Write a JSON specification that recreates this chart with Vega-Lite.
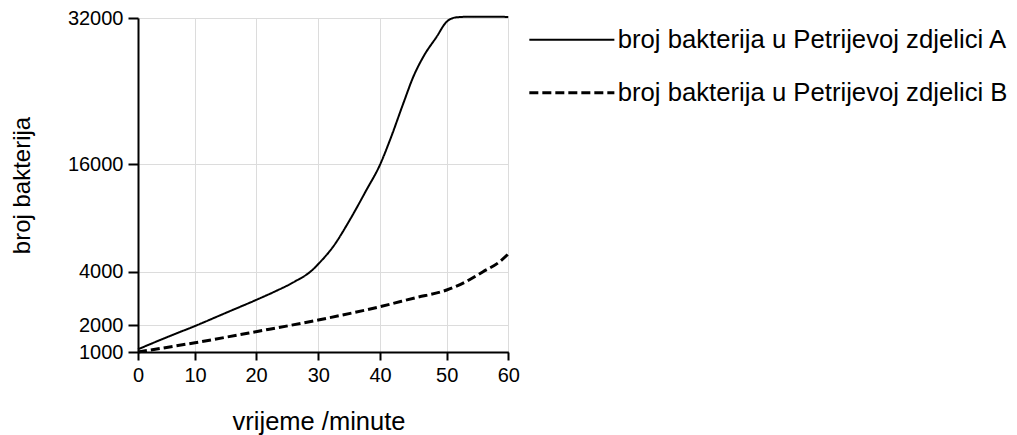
{
  "$schema": "https://vega.github.io/schema/vega-lite/v6.json",
  "width": 370,
  "height": 334,
  "autosize": {"type": "none"},
  "padding": {"left": 138, "top": 18, "right": 509, "bottom": 83},
  "background": "white",
  "config": {"view": {"stroke": null}, "font": "Liberation Sans"},
  "data": {
    "values": [
      {"t": 0, "n": 1100, "posuda": "broj bakterija u Petrijevoj zdjelici A"},
      {"t": 5.3, "n": 1567, "posuda": "broj bakterija u Petrijevoj zdjelici A"},
      {"t": 10, "n": 1963, "posuda": "broj bakterija u Petrijevoj zdjelici A"},
      {"t": 15, "n": 2450, "posuda": "broj bakterija u Petrijevoj zdjelici A"},
      {"t": 20, "n": 2938, "posuda": "broj bakterija u Petrijevoj zdjelici A"},
      {"t": 23, "n": 3253, "posuda": "broj bakterija u Petrijevoj zdjelici A"},
      {"t": 26.3, "n": 3640, "posuda": "broj bakterija u Petrijevoj zdjelici A"},
      {"t": 28.9, "n": 4100, "posuda": "broj bakterija u Petrijevoj zdjelici A"},
      {"t": 30, "n": 4860, "posuda": "broj bakterija u Petrijevoj zdjelici A"},
      {"t": 32.4, "n": 6793, "posuda": "broj bakterija u Petrijevoj zdjelici A"},
      {"t": 35.1, "n": 9777, "posuda": "broj bakterija u Petrijevoj zdjelici A"},
      {"t": 37.8, "n": 13128, "posuda": "broj bakterija u Petrijevoj zdjelici A"},
      {"t": 40, "n": 15950, "posuda": "broj bakterija u Petrijevoj zdjelici A"},
      {"t": 41.5, "n": 18658, "posuda": "broj bakterija u Petrijevoj zdjelici A"},
      {"t": 43.5, "n": 22671, "posuda": "broj bakterija u Petrijevoj zdjelici A"},
      {"t": 45, "n": 25580, "posuda": "broj bakterija u Petrijevoj zdjelici A"},
      {"t": 46.5, "n": 27767, "posuda": "broj bakterija u Petrijevoj zdjelici A"},
      {"t": 48.5, "n": 29955, "posuda": "broj bakterija u Petrijevoj zdjelici A"},
      {"t": 50, "n": 31595, "posuda": "broj bakterija u Petrijevoj zdjelici A"},
      {"t": 51.6, "n": 32076, "posuda": "broj bakterija u Petrijevoj zdjelici A"},
      {"t": 53.8, "n": 32140, "posuda": "broj bakterija u Petrijevoj zdjelici A"},
      {"t": 60, "n": 32120, "posuda": "broj bakterija u Petrijevoj zdjelici A"},
      {"t": 0, "n": 1000, "posuda": "broj bakterija u Petrijevoj zdjelici B"},
      {"t": 10, "n": 1344, "posuda": "broj bakterija u Petrijevoj zdjelici B"},
      {"t": 20, "n": 1752, "posuda": "broj bakterija u Petrijevoj zdjelici B"},
      {"t": 30, "n": 2188, "posuda": "broj bakterija u Petrijevoj zdjelici B"},
      {"t": 40, "n": 2687, "posuda": "broj bakterija u Petrijevoj zdjelici B"},
      {"t": 45.2, "n": 3015, "posuda": "broj bakterija u Petrijevoj zdjelici B"},
      {"t": 50, "n": 3313, "posuda": "broj bakterija u Petrijevoj zdjelici B"},
      {"t": 53.2, "n": 3636, "posuda": "broj bakterija u Petrijevoj zdjelici B"},
      {"t": 55.9, "n": 4000, "posuda": "broj bakterija u Petrijevoj zdjelici B"},
      {"t": 58.6, "n": 5117, "posuda": "broj bakterija u Petrijevoj zdjelici B"},
      {"t": 60, "n": 5980, "posuda": "broj bakterija u Petrijevoj zdjelici B"}
    ]
  },
  "mark": {"type": "line", "interpolate": "monotone", "color": "black"},
  "encoding": {
    "x": {
      "field": "t",
      "type": "quantitative",
      "scale": {
        "domain": [0, 10, 20, 30, 40, 50, 60],
        "range": [0, 57, 118, 180.3, 242, 308.7, 370.3],
        "nice": false,
        "zero": false,
        "clamp": false
      },
      "axis": {
        "values": [0, 10, 20, 30, 40, 50, 60],
        "title": "vrijeme /minute",
        "titleX": 180.5,
        "grid": true,
        "gridColor": "#dcdcdc",
        "gridWidth": 1,
        "domainColor": "black",
        "domainWidth": 2,
        "tickColor": "black",
        "tickWidth": 2,
        "tickSize": 8,
        "labelFontSize": 20,
        "labelColor": "black",
        "labelPadding": 5,
        "labelFlush": false,
        "labelOverlap": false,
        "titleFontSize": 25.5,
        "titleFontWeight": "normal",
        "titleColor": "black",
        "titlePadding": 24
      }
    },
    "y": {
      "field": "n",
      "type": "quantitative",
      "scale": {
        "domain": [1000, 2000, 4000, 16000, 32000],
        "range": [334, 307, 253.7, 146.3, 0],
        "nice": false,
        "zero": false,
        "clamp": false
      },
      "axis": {
        "values": [1000, 2000, 4000, 16000, 32000],
        "format": "d",
        "title": "broj bakterija",
        "grid": true,
        "gridColor": "#dcdcdc",
        "gridWidth": 1,
        "domainColor": "black",
        "domainWidth": 2,
        "tickColor": "black",
        "tickWidth": 2,
        "tickSize": 10,
        "labelFontSize": 20,
        "labelColor": "black",
        "labelPadding": 5,
        "labelFlush": false,
        "labelOverlap": false,
        "titleFontSize": 24,
        "titleFontWeight": "normal",
        "titleColor": "black",
        "titlePadding": 33
      }
    },
    "strokeDash": {
      "field": "posuda",
      "type": "nominal",
      "scale": {
        "domain": ["broj bakterija u Petrijevoj zdjelici A", "broj bakterija u Petrijevoj zdjelici B"],
        "range": [[1, 0], [9, 4]]
      },
      "legend": {
        "orient": "none",
        "legendX": 421,
        "legendY": 9,
        "title": null,
        "symbolType": "M-4,0H4",
        "symbolSize": 452,
        "symbolStrokeColor": "black",
        "labelFontSize": 25.7,
        "labelLimit": 600,
        "labelColor": "black",
        "labelOffset": 33,
        "rowPadding": 26,
        "padding": 0
      }
    },
    "strokeWidth": {
      "field": "posuda",
      "type": "nominal",
      "scale": {
        "domain": ["broj bakterija u Petrijevoj zdjelici A", "broj bakterija u Petrijevoj zdjelici B"],
        "range": [2, 3]
      },
      "legend": {
        "orient": "none",
        "legendX": 421,
        "legendY": 9,
        "title": null,
        "symbolType": "M-4,0H4",
        "symbolSize": 452,
        "symbolStrokeColor": "black",
        "labelFontSize": 25.7,
        "labelLimit": 600,
        "labelColor": "black",
        "labelOffset": 33,
        "rowPadding": 26,
        "padding": 0
      }
    }
  }
}
